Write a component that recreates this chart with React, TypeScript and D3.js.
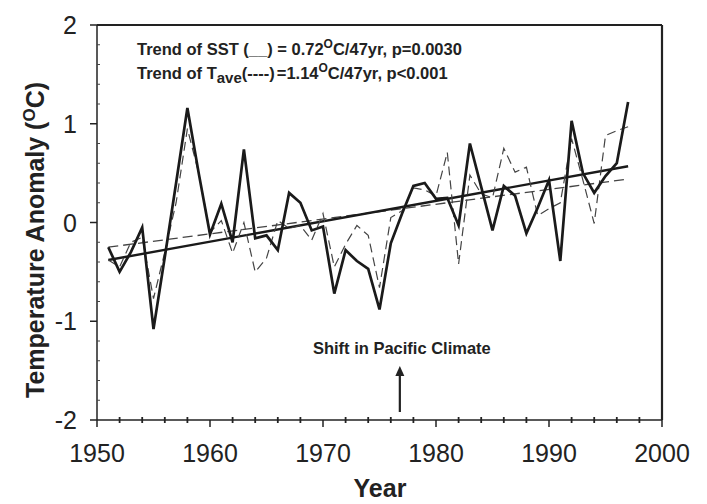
import React from 'react';
import * as d3 from 'd3';

// years 1951-1997
const years = d3.range(1951, 1998);

// SST anomaly (solid)
const sst = [
  -0.25, -0.5, -0.3, -0.05, -1.08, -0.35, 0.4, 1.16, 0.5, -0.12,
  0.19, -0.2, 0.74, -0.16, -0.13, -0.28, 0.3, 0.2, -0.08, -0.04,
  -0.72, -0.28, -0.39, -0.47, -0.88, -0.21, 0.09, 0.37, 0.4, 0.24,
  0.25, -0.03, 0.8, 0.36, -0.08, 0.37, 0.27, -0.11, 0.15, 0.43,
  -0.39, 1.03, 0.5, 0.3, 0.47, 0.6, 1.22,
];

// Tave anomaly (dashed)
const tave = [
  -0.38, -0.45, -0.2, -0.15, -0.77, -0.3, 0.2, 0.95, 0.5, -0.1,
  0.02, -0.31, 0.0, -0.5, -0.36, 0.02, -0.06, -0.03, -0.18, 0.09,
  -0.45, -0.22, -0.03, -0.13, -0.66, 0.05, 0.12, 0.35, 0.33, 0.27,
  0.71, -0.42, 0.48, 0.29, 0.25, 0.75, 0.51, 0.56, 0.07, 0.14,
  0.2, 0.85, 0.43, -0.01, 0.88, 0.93, 0.97,
];

// trend line end points [year, value]
const trendSST: [number, number][] = [[1951, -0.38], [1997, 0.57]];
const trendTave: [number, number][] = [[1951, -0.25], [1997, 0.44]];

const yMajor = [-2, -1, 0, 1, 2];
const xMajor = [1950, 1960, 1970, 1980, 1990, 2000];
const shiftYear = 1976.8;

const font = 'Arial, "Liberation Sans", sans-serif';

const App = () => {
  const left = 97, right = 662, top = 25, bottom = 420;
  const x = d3.scaleLinear().domain([1950, 2000]).range([left, right]);
  const y = d3.scaleLinear().domain([-2, 2]).range([bottom, top]);

  const line = d3.line<[number, number]>()
    .x(d => x(d[0]))
    .y(d => y(d[1]));

  const sstPts = years.map((yr, i) => [yr, sst[i]] as [number, number]);
  const tavePts = years.map((yr, i) => [yr, tave[i]] as [number, number]);

  const yMinor = d3.range(-1.8, 2, 0.2).filter(v => Math.abs(v - Math.round(v)) > 0.01);
  const xMinor = d3.range(1952, 2000, 2).filter(v => v % 10 !== 0);
  const ax = x(shiftYear);

  return (
    <svg width={707} height={504} style={{ position: 'absolute', left: 0, top: 0, background: '#fff' }}
      fontFamily={font}>
      {/* frame */}
      <line x1={left} x2={right} y1={top} y2={top} stroke="#222" strokeWidth={2.2} />
      <line x1={right} x2={right} y1={top} y2={bottom} stroke="#222" strokeWidth={2.2} />
      <line x1={left} x2={left} y1={top} y2={bottom} stroke="#222" strokeWidth={1.5} />
      <line x1={left} x2={right} y1={bottom} y2={bottom} stroke="#222" strokeWidth={1.5} />

      {/* y ticks */}
      {yMajor.map(v => (
        <g key={'ym' + v}>
          <line x1={left - 7} x2={left} y1={y(v)} y2={y(v)} stroke="#222" strokeWidth={1.5} />
          <text x={left - 20} y={y(v)} dy="0.36em" textAnchor="end" fontSize={25} fill="#222">{v}</text>
        </g>
      ))}
      {yMinor.map(v => (
        <line key={'yn' + v} x1={left} x2={left + 3} y1={y(v)} y2={y(v)} stroke="#444" strokeWidth={1} />
      ))}

      {/* x ticks */}
      {xMajor.map(v => (
        <g key={'xm' + v}>
          <line x1={x(v)} x2={x(v)} y1={bottom} y2={bottom + 7} stroke="#222" strokeWidth={1.5} />
          <text x={x(v)} y={bottom + 42} textAnchor="middle" fontSize={25} fill="#222">{v}</text>
        </g>
      ))}
      {xMinor.map(v => (
        <line key={'xn' + v} x1={x(v)} x2={x(v)} y1={bottom - 3} y2={bottom + 3} stroke="#222" strokeWidth={1.8} />
      ))}

      {/* trend lines */}
      <path d={line(trendTave) || ''} fill="none" stroke="#444" strokeWidth={1.3} strokeDasharray="10,5" />
      <path d={line(trendSST) || ''} fill="none" stroke="#1a1a1a" strokeWidth={2.4} />

      {/* series */}
      <path d={line(tavePts) || ''} fill="none" stroke="#444" strokeWidth={1.2} strokeDasharray="9,5" />
      <path d={line(sstPts) || ''} fill="none" stroke="#1a1a1a" strokeWidth={2.7} strokeLinejoin="miter" />

      {/* annotations */}
      <text x={137} y={55} fontSize={16.5} fontWeight="bold" fill="#222">
        Trend of SST (__) = 0.72<tspan dy={-7} fontSize={12}>O</tspan><tspan dy={7}>C/47yr, p=0.0030</tspan>
      </text>
      <text x={137} y={79} fontSize={16.5} fontWeight="bold" fill="#222">
        Trend of T<tspan dy={4} fontSize={15}>ave</tspan><tspan dy={-4}>(----)</tspan>
        <tspan dx={2}>=1.14</tspan>
        <tspan dy={-7} fontSize={12}>O</tspan><tspan dy={7}>C/47yr, p&lt;0.001</tspan>
      </text>

      <text x={ax + 2} y={354} textAnchor="middle" fontSize={16.5} fontWeight="bold" fill="#222">
        Shift in Pacific Climate
      </text>
      <line x1={ax} x2={ax} y1={412} y2={374} stroke="#222" strokeWidth={2.2} />
      <path d={`M${ax - 4.5},${376} L${ax},${366} L${ax + 4.5},${376} Z`} fill="#222" />

      {/* axis titles */}
      <text x={380} y={497} textAnchor="middle" fontSize={25} fontWeight="bold" fill="#222">Year</text>
      <text transform={`translate(44,${240}) rotate(-90)`} textAnchor="middle" fontSize={25}
        fontWeight="bold" fill="#222">
        Temperature Anomaly (<tspan dy={-9} fontSize={17}>O</tspan><tspan dy={9}>C)</tspan>
      </text>
    </svg>
  );
};

export default App;
